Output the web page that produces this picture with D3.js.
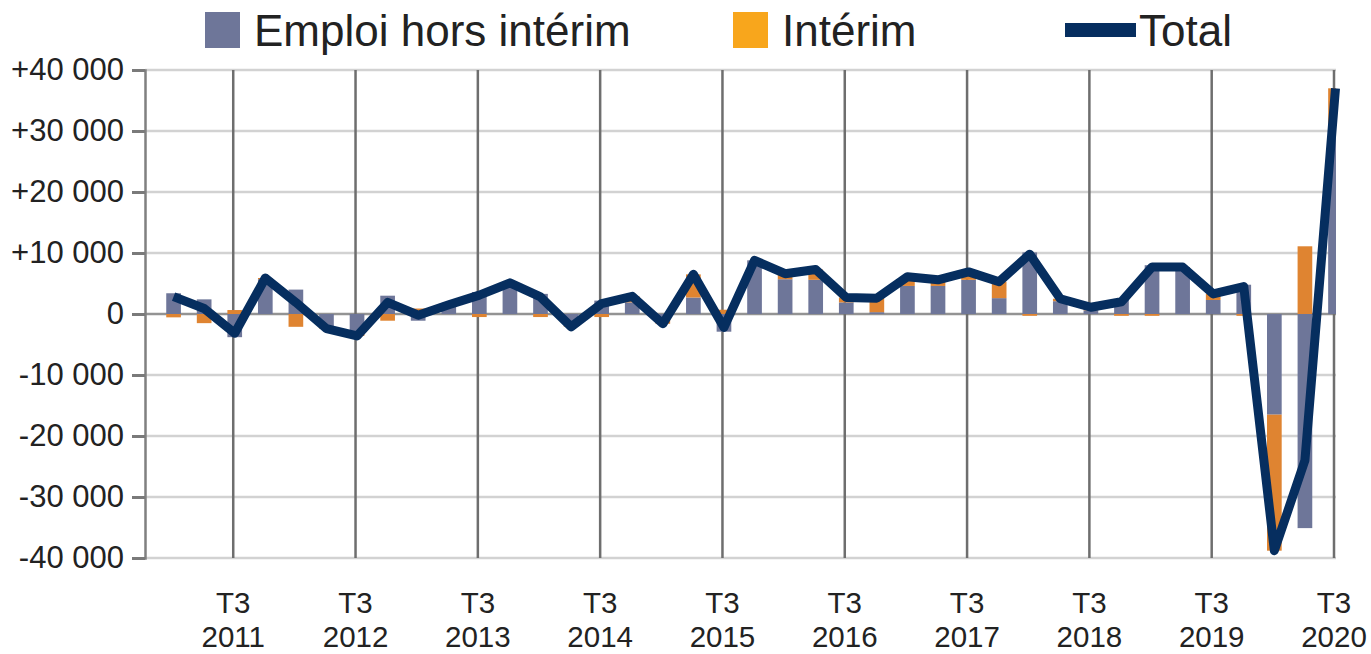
<!DOCTYPE html>
<html>
<head>
<meta charset="utf-8">
<script src="https://cdn.jsdelivr.net/npm/d3@7"></script>
<style>
  body { margin: 0; background: #fff; }
  text { font-family: "Liberation Sans", Arial, sans-serif; fill: #222; }
</style>
</head>
<body>
<div id="chart"></div>
<script>
// Quarters T1 2011 .. T3 2020
const quarters = [];
for (let y = 2011; y <= 2020; y++) {
  for (let q = 1; q <= 4; q++) {
    if (y === 2020 && q > 3) break;
    quarters.push({ q: q, year: y });
  }
}

// Emploi hors intérim (quarterly change)
const horsInterim = [3400, 2400, -3800, 5700, 4000, -2000, -3300, 3000, -1100, 1500,
  3600, 5000, 3300, -2000, 2200, 1900, -1000, 2700, -2900, 8800,
  5700, 5600, 1900, 300, 4600, 4600, 5600, 2600, 10100, 2100,
  600, 2300, 8000, 7700, 2300, 4800, -16500, -35100, 29900];

// Intérim (quarterly change)
const interim = [-550, -1500, 650, 200, -2100, -400, -300, -1100, 900, 0,
  -500, 100, -500, -100, -500, 1000, -600, 3800, 700, 0,
  900, 1700, 800, 2300, 1500, 1000, 1300, 2700, -300, 400,
  500, -300, -300, 0, 1000, -300, -22300, 11100, 7100];

// Total
const total = [2850, 900, -3150, 5900, 1900, -2400, -3600, 1900, -200, 1500,
  3100, 5100, 2800, -2100, 1700, 2900, -1600, 6500, -2200, 8800,
  6600, 7300, 2700, 2600, 6100, 5600, 6900, 5300, 9800, 2500,
  1100, 2000, 7700, 7700, 3300, 4500, -38800, -24000, 37000];

const yTicks = [-40000, -30000, -20000, -10000, 0, 10000, 20000, 30000, 40000];
const legendLabels = ['Emploi hors intérim', 'Intérim', 'Total'];

const width = 1371;
const height = 654;
const plot = { left: 145, right: 1336, top: 70, bottom: 558 };

const colors = { hors: '#6e7699', interim: '#df8431', interimLegend: '#f8a61c', total: '#062e5f' };

const svg = d3.select('#chart').append('svg').attr('width', width).attr('height', height);

const data = quarters.map((d, i) => ({ i: i, q: d.q, year: d.year, hors: horsInterim[i], interim: interim[i], total: total[i] }));

const x = d3.scaleLinear().domain([-1, data.length - 1]).range([plot.left - 2, plot.right - 0.5]);
const y = d3.scaleLinear().domain([-40000, 40000]).range([plot.bottom, plot.top]);
const step = x(1) - x(0);
const barW = step * 0.48;

const fmt = d3.formatLocale({ decimal: ',', thousands: ' ', grouping: [3], currency: ['', ''], minus: '-' }).format(',');
const tickLabel = v => v === 0 ? '0' : (v > 0 ? '+' : '') + fmt(v);

// horizontal gridlines
svg.append('g').selectAll('line').data(yTicks).join('line')
  .attr('x1', plot.left).attr('x2', plot.right)
  .attr('y1', d => y(d)).attr('y2', d => y(d))
  .attr('stroke', d => d === 0 ? '#939393' : '#d2d2d2')
  .attr('stroke-width', 2.5);

// vertical gridlines at T3
const t3 = data.filter(d => d.q === 3);
svg.append('g').selectAll('line').data(t3).join('line')
  .attr('x1', d => x(d.i) - 1.5).attr('x2', d => x(d.i) - 1.5)
  .attr('y1', plot.top).attr('y2', plot.bottom)
  .attr('stroke', '#6e6e6e').attr('stroke-width', 2.5);

// y axis
const yAxis = d3.axisLeft(y).tickValues(yTicks).tickSize(13).tickFormat(tickLabel);
const yg = svg.append('g').attr('transform', `translate(${plot.left},0)`).call(yAxis);
yg.select('.domain').attr('stroke', '#808080').attr('stroke-width', 2.5);
yg.selectAll('.tick line').attr('stroke', '#7a7a7a').attr('stroke-width', 3);
yg.selectAll('.tick text').attr('x', -21).attr('font-size', 31).attr('font-family', '"Liberation Sans", Arial, sans-serif').attr('fill', '#222');

// bars
svg.append('clipPath').attr('id', 'clip').append('rect')
  .attr('x', plot.left).attr('y', plot.top - 5).attr('width', plot.right - plot.left).attr('height', plot.bottom - plot.top + 10);

const stack = d3.stack().keys(['hors', 'interim']).offset(d3.stackOffsetDiverging);
const series = stack(data);

svg.append('g').attr('clip-path', 'url(#clip)')
  .selectAll('g').data(series).join('g')
  .attr('fill', d => colors[d.key])
  .selectAll('rect').data(d => d).join('rect')
  .attr('x', d => x(d.data.i) - barW / 2)
  .attr('width', barW)
  .attr('y', d => y(Math.max(d[0], d[1])))
  .attr('height', d => Math.abs(y(d[0]) - y(d[1])));

// total line
const line = d3.line().x(d => x(d.i)).y(d => y(d.total));
svg.append('path').datum(data)
  .attr('d', line)
  .attr('fill', 'none')
  .attr('stroke', colors.total)
  .attr('stroke-width', 9)
  .attr('stroke-linejoin', 'round');

// x labels
const xl = svg.append('g').selectAll('g').data(t3).join('g')
  .attr('transform', d => `translate(${x(d.i) - 1.5},0)`);
xl.append('text').attr('y', 613).attr('text-anchor', 'middle').attr('font-size', 29.5).text(d => 'T' + d.q);
xl.append('text').attr('y', 647).attr('text-anchor', 'middle').attr('font-size', 29.5).text(d => d.year);

// legend
const legend = svg.append('g');
legend.append('rect').attr('x', 205).attr('y', 12).attr('width', 35).attr('height', 36).attr('fill', colors.hors);
legend.append('text').attr('x', 254).attr('y', 46).attr('font-size', 44).text(legendLabels[0]);
legend.append('rect').attr('x', 733).attr('y', 12).attr('width', 35).attr('height', 36).attr('fill', colors.interimLegend);
legend.append('text').attr('x', 782).attr('y', 46).attr('font-size', 44).text(legendLabels[1]);
legend.append('line').attr('x1', 1065).attr('x2', 1136).attr('y1', 30).attr('y2', 30)
  .attr('stroke', colors.total).attr('stroke-width', 14);
legend.append('text').attr('x', 1139).attr('y', 46).attr('font-size', 44).text(legendLabels[2]);
</script>
</body>
</html>
